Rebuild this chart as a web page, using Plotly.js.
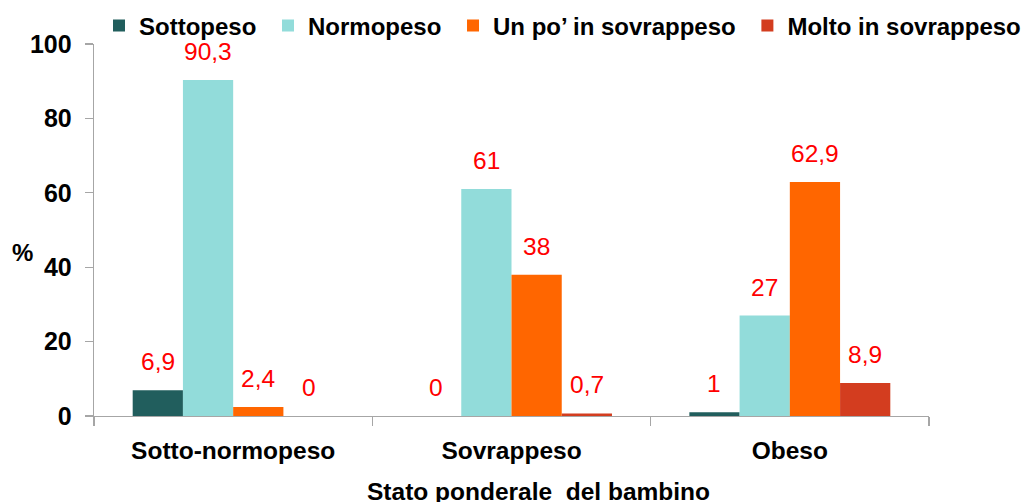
<!DOCTYPE html>
<html>
<head>
<meta charset="utf-8">
<script src="https://cdn.plot.ly/plotly-3.0.1.min.js"></script>
<style>html,body{margin:0;padding:0;background:#fff;}#chart{width:1028px;height:502px;}</style>
</head>
<body>
<div id="chart"></div>
<script>
const categories = ["Sotto-normopeso", "Sovrappeso", "Obeso"];
const seriesNames = ["Sottopeso", "Normopeso", "Un po\u2019 in sovrappeso", "Molto in sovrappeso"];
const sottopeso = [6.9, 0, 1];
const normopeso = [90.3, 61, 27];
const unPoSovrappeso = [2.4, 38, 62.9];
const moltoSovrappeso = [0, 0.7, 8.9];
const seriesColors = ["#215E5D", "#92DCDA", "#FF6600", "#D33D1F"];
const yTicks = [0, 20, 40, 60, 80, 100];

const allSeries = [sottopeso, normopeso, unPoSovrappeso, moltoSovrappeso];
const FONT = '"Liberation Sans", Arial, sans-serif';
const bargap = 0.278;
const barW = (1 - bargap) / allSeries.length;

const traces = allSeries.map((vals, i) => ({
  type: 'bar',
  name: seriesNames[i] + (i < allSeries.length - 1 ? '\u00A0' : ''),
  x: categories,
  y: vals,
  marker: {color: seriesColors[i], line: {width: 0}},
  hoverinfo: 'none'
}));

const annotations = [];
allSeries.forEach((vals, i) => {
  vals.forEach((v, j) => {
    annotations.push({
      x: j + (i - (allSeries.length - 1) / 2) * barW,
      y: v,
      xref: 'x', yref: 'y',
      text: String(v).replace('.', ','),
      showarrow: false,
      yanchor: 'bottom',
      yshift: 13,
      font: {family: FONT, size: 24.5, color: '#FF0000'}
    });
  });
});
annotations.push({
  xref: 'paper', yref: 'paper',
  x: (22 - 94) / 835, y: (416 - 253) / 372,
  xanchor: 'center', yanchor: 'middle',
  text: '<b>%</b>', showarrow: false,
  font: {family: FONT, size: 24, color: '#000'}
});
annotations.push({
  xref: 'paper', yref: 'paper',
  x: (538 - 94) / 835, y: (416 - 491) / 372,
  xanchor: 'center', yanchor: 'middle',
  text: '<b>Stato ponderale\u00A0 del bambino</b>', showarrow: false,
  font: {family: FONT, size: 24.5, color: '#000'}
});

const layout = {
  width: 1028, height: 502,
  margin: {l: 94, r: 99, t: 44, b: 86, pad: 0, autoexpand: false},
  paper_bgcolor: '#fff', plot_bgcolor: '#fff',
  barmode: 'group', bargap: bargap, bargroupgap: 0,
  showlegend: true,
  legend: {
    orientation: 'h', xref: 'paper', yref: 'paper',
    x: (1026 - 94) / 835, y: 1 + (44 - 26) / 372, xanchor: 'right', yanchor: 'middle',
    font: {family: FONT, size: 24, color: '#000', weight: 'bold'},
    itemclick: false, itemdoubleclick: false
  },
  xaxis: {
    type: 'category',
    showline: true, linecolor: '#A6A6A6', linewidth: 1.3,
    ticks: 'outside', tickson: 'boundaries', ticklen: 9, tickcolor: '#A6A6A6', tickwidth: 1.3,
    ticklabelstandoff: 12,
    tickfont: {family: FONT, size: 24.5, color: '#000', weight: 'bold'},
    showgrid: false, zeroline: false
  },
  yaxis: {
    range: [0, 100],
    tickvals: yTicks, ticktext: yTicks.map(String),
    showline: true, linecolor: '#A6A6A6', linewidth: 1.3,
    ticks: 'outside', ticklen: 8, tickcolor: '#A6A6A6', tickwidth: 1.3,
    ticklabelstandoff: 8,
    tickfont: {family: FONT, size: 25, color: '#000', weight: 'bold'},
    showgrid: false, zeroline: false
  },
  annotations: annotations
};

Plotly.newPlot('chart', traces, layout, {displayModeBar: false, staticPlot: true});
</script>
</body>
</html>
